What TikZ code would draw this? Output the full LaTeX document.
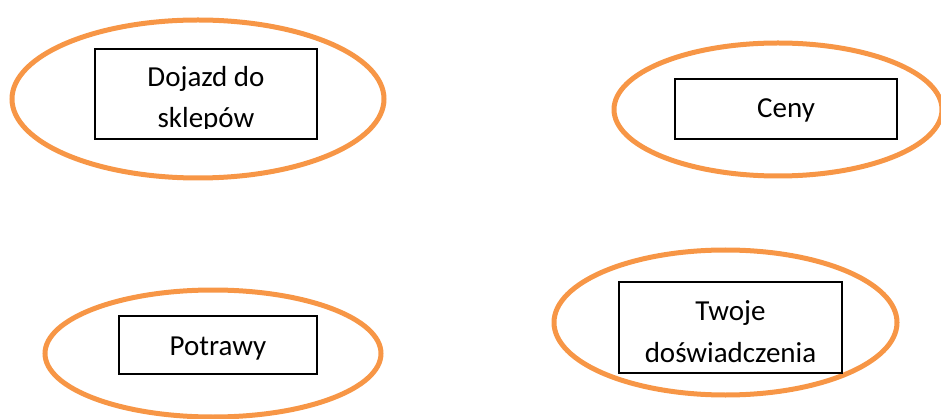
\documentclass[tikz,border=0pt]{standalone}
\usepackage{fontspec}
\setmainfont{Carlito}
\usetikzlibrary{shapes.geometric}
\definecolor{ring}{HTML}{F79646}
\tikzset{
  ringshape/.style={ellipse, draw=ring, line width=5pt, inner sep=0pt, outer sep=0pt},
  boxshape/.style={rectangle, draw=black, line width=1.2pt, inner sep=0pt, outer sep=0pt},
  label/.style={anchor=base, inner sep=0pt, font=\fontsize{29}{35}\selectfont}
}
\begin{document}
\begin{tikzpicture}[x=1pt,y=-1pt]
\useasboundingbox (0,0) rectangle (941,419);
% ellipses
\node[ringshape, minimum width=372pt, minimum height=158pt] (e1) at (198,99) {};
\node[ringshape, minimum width=328pt, minimum height=133pt] (e2) at (778,109.5) {};
\node[ringshape, minimum width=336pt, minimum height=127pt] (e3) at (213,353.5) {};
\node[ringshape, minimum width=343pt, minimum height=145pt] (e4) at (725.5,322.5) {};
% boxes
\node[boxshape, minimum width=222pt, minimum height=90pt] (b1) at (206,94) {};
\node[boxshape, minimum width=222pt, minimum height=60pt] (b2) at (786,109) {};
\node[boxshape, minimum width=198pt, minimum height=58pt] (b3) at (218,345) {};
\node[boxshape, minimum width=223pt, minimum height=91pt] (b4) at (730.5,327.5) {};
% texts
\node[label] (t1) at (206,87) {Dojazd do};
\begin{scope}
\clip (95,49) rectangle (317,129);
\node[label] (t1b) at (206,128) {sklepów};
\end{scope}
\node[label] (t2) at (786,118) {Ceny};
\node[label] (t3) at (218,355) {Potrawy};
\node[label] (t4) at (730.5,320) {Twoje};
\node[label] (t4b) at (730.5,362) {doświadczenia};
\end{tikzpicture}
\end{document}
